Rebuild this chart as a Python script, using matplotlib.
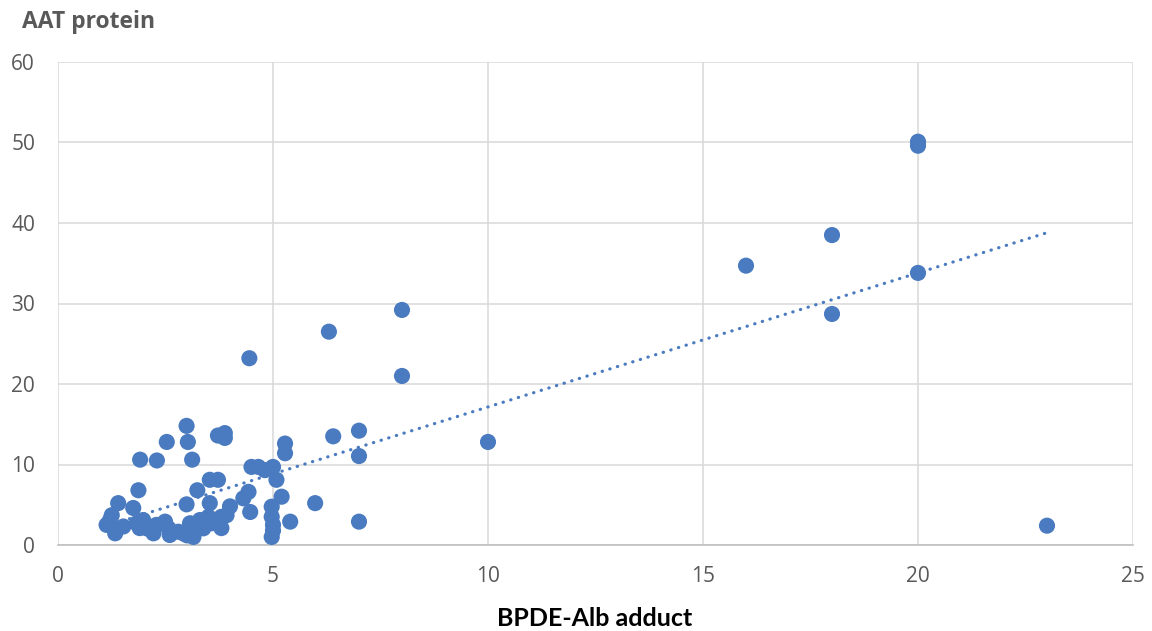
import matplotlib
matplotlib.use("Agg")
import matplotlib.pyplot as plt
import numpy as np

# Data (BPDE-Alb adduct vs AAT protein)
bpde_x = [23, 20, 20, 20, 18, 18, 16, 10, 8, 8, 6.3, 4.45,
          7, 7, 7, 6.4, 5.98, 5.4, 5.28, 5.28, 5.2, 5.08, 5.0, 4.81, 4.66, 4.5,
          4.43, 4.31, 4.47, 4.0, 3.92, 4.97, 4.97, 5.0, 5.0, 4.97,
          3.88, 3.88, 3.72, 3.53, 3.72, 3.24, 3.53, 3.5, 3.8,
          2.99, 3.02, 2.53, 1.91, 2.3, 3.12, 1.87, 1.40, 1.75, 2.99, 1.25,
          1.13, 1.21, 1.33, 1.52, 1.83, 1.98, 2.06, 1.9, 2.29, 2.22, 2.49, 2.57,
          2.6, 2.8, 2.93, 3.07, 3.15, 3.0, 3.3, 3.38, 3.57, 3.73, 3.8]
aat_y = [2.4, 50.1, 49.6, 33.8, 38.5, 28.7, 34.7, 12.8, 29.2, 21.0, 26.5, 23.2,
         14.2, 11.05, 2.9, 13.5, 5.2, 2.9, 12.6, 11.4, 6.0, 8.1, 9.7, 9.3, 9.7, 9.7,
         6.6, 5.8, 4.1, 4.8, 3.7, 4.76, 3.5, 2.5, 1.8, 1.0,
         13.9, 13.3, 13.6, 8.1, 8.1, 6.8, 5.2, 3.5, 3.5,
         14.8, 12.8, 12.8, 10.6, 10.5, 10.6, 6.8, 5.2, 4.6, 5.05, 3.7,
         2.5, 3.1, 1.45, 2.3, 2.7, 3.1, 2.07, 2.1, 2.5, 1.45, 2.9, 2.07,
         1.24, 1.65, 1.4, 2.7, 1.0, 1.2, 3.1, 2.07, 2.7, 3.1, 2.1]

# Linear trendline
trend_slope = 1.665
trend_intercept = 0.5

x_ticks = [0, 5, 10, 15, 20, 25]
y_ticks = [0, 10, 20, 30, 40, 50, 60]

fig = plt.figure(figsize=(11.52, 6.31), dpi=100)
ax = fig.add_axes([58/1152, 86/631, (1133-58)/1152, (545-62)/631])

blue = "#4a7bc0"
ax.scatter(bpde_x, aat_y, s=135, color=blue, edgecolors="none", zorder=3)

tx = np.array([min(bpde_x), max(bpde_x)])
ax.plot(tx, trend_slope * tx + trend_intercept, color="#4a7bc0", lw=2.3,
        linestyle=(0, (0.1, 2.4)), dash_capstyle="round", zorder=4)

ax.set_xlim(0, 25)
ax.set_ylim(0, 60)
ax.set_xticks(x_ticks)
ax.set_yticks(y_ticks)
ax.grid(True, color="#d9d9d9", lw=1.1)
ax.set_axisbelow(True)
for s in ["top", "right", "left"]:
    ax.spines[s].set_visible(False)
ax.spines["bottom"].set_color("#bfbfbf")
ax.spines["bottom"].set_linewidth(1.2)
ax.tick_params(length=0, labelsize=15, labelcolor="#595959")
ax.tick_params(axis="y", pad=16.5)
ax.tick_params(axis="x", pad=15)
for lbl in ax.get_xticklabels() + ax.get_yticklabels():
    lbl.set_family("Open Sans")

fig.text(22/1152, 1 - 22/631, "AAT protein", fontsize=16.5, fontweight="bold",
         color="#595959", family="Open Sans", va="center", ha="left")
fig.text(595/1152, 1 - 619/631, "BPDE-Alb adduct", fontsize=18, fontweight="bold",
         color="#000000", family="Lato", va="center", ha="center")

fig.savefig("out.png", dpi=100)
